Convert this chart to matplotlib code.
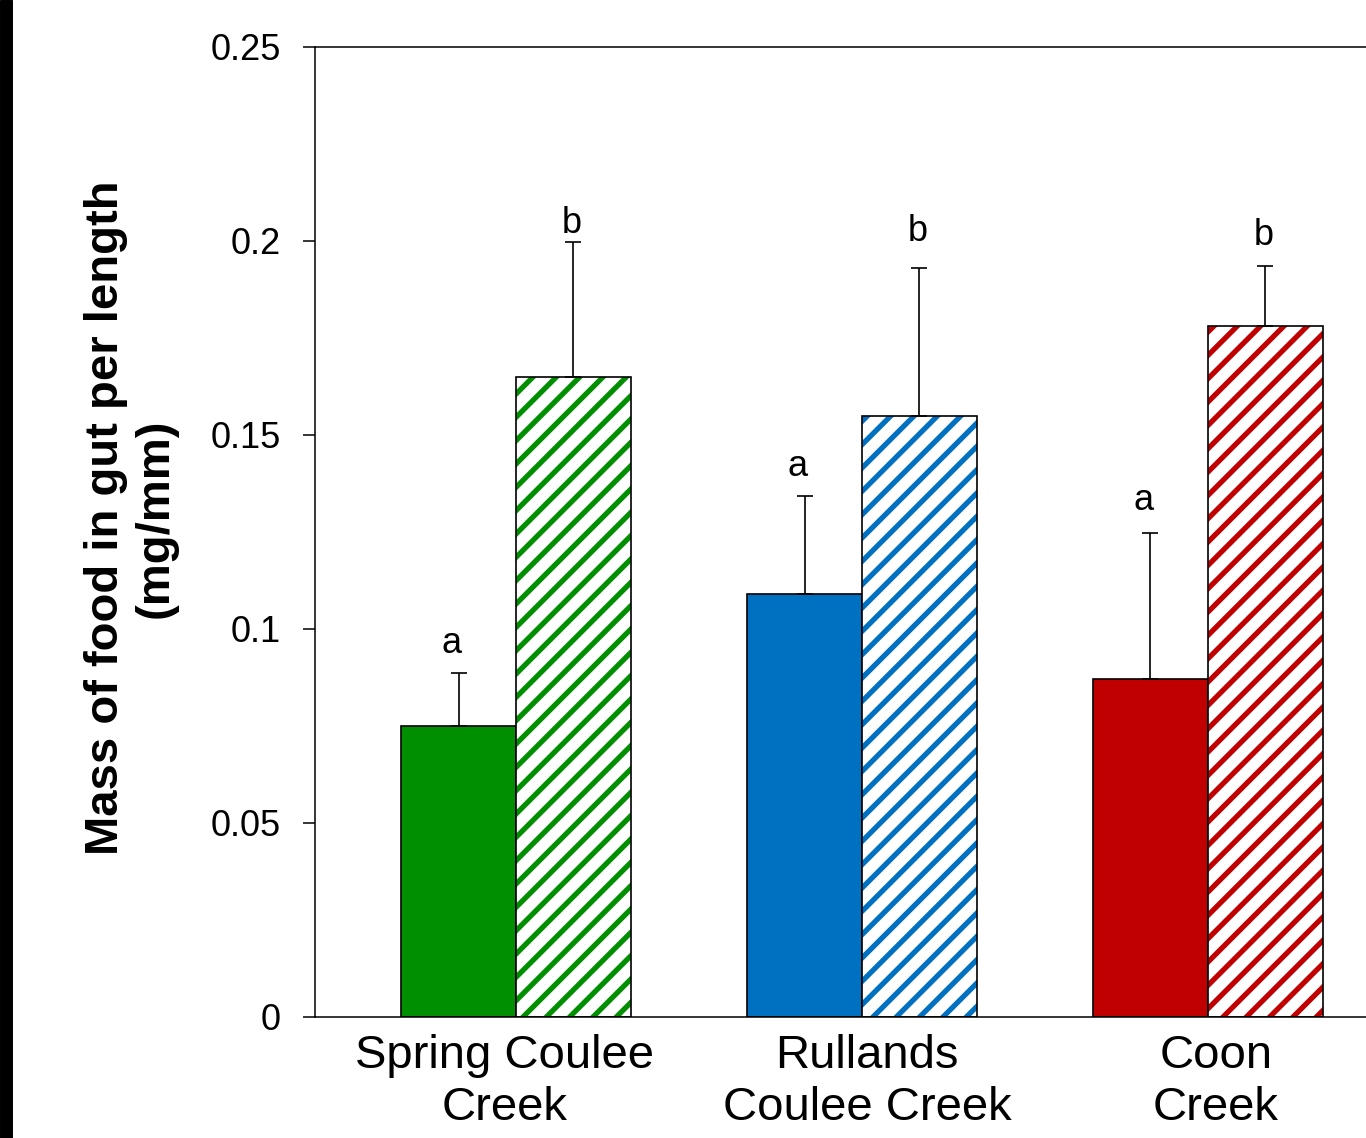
import matplotlib.pyplot as plt
from matplotlib.patches import Rectangle
from matplotlib.transforms import ScaledTranslation
import numpy as np

# drawn at 70 dpi so the hatch stripes come out as dense as in the original;
# S converts sizes picked for 100 dpi
DPI = 70
S = 100 / DPI

plt.rcParams['font.family'] = ['Liberation Sans', 'DejaVu Sans']
plt.rcParams['hatch.linewidth'] = 5.4

sites = ['Spring Coulee\nCreek', 'Rullands\nCoulee Creek', 'Coon\nCreek']
colors = ['#008F00', '#0070C0', '#C00000']

solid_vals = [0.075, 0.109, 0.0871]
solid_err = [0.0137, 0.0253, 0.0376]
hatch_vals = [0.165, 0.155, 0.178]
hatch_err = [0.0347, 0.038, 0.0156]

# letters above the bars (baseline height)
solid_letters = ['a', 'a', 'a']
solid_letter_y = [0.0938, 0.1394, 0.1307]
hatch_letters = ['b', 'b', 'b']
hatch_letter_y = [0.2021, 0.2000, 0.199]

fig = plt.figure(figsize=(1366 / DPI, 1138 / DPI), dpi=DPI)
ax = fig.add_axes([315 / 1366, 121 / 1138, 1 - 315 / 1366, (1017 - 47) / 1138])

x = np.arange(len(sites))
w = 0.332
lw = 1.2 * S

# solid bars
ax.bar(x - w / 2, solid_vals, width=w, color=colors, edgecolor='black', linewidth=lw, zorder=2)
ax.errorbar(x - w / 2, solid_vals, yerr=[np.zeros(3), solid_err], fmt='none', ecolor='black',
            elinewidth=lw, capsize=6 * S, capthick=lw, zorder=3)

# hatched bars: white face, coloured stripes, black outline
for xi, v, c in zip(x + w / 2, hatch_vals, colors):
    ax.bar(xi, v, width=w, color='white', edgecolor=c, hatch='/', linewidth=0, zorder=2)
ax.bar(x + w / 2, hatch_vals, width=w, fill=False, edgecolor='black', linewidth=lw, zorder=2.5)
ax.errorbar(x + w / 2, hatch_vals, yerr=[np.zeros(3), hatch_err], fmt='none', ecolor='black',
            elinewidth=lw, capsize=6 * S, capthick=lw, zorder=3)

for xi, lab, ly in zip(x - w / 2, solid_letters, solid_letter_y):
    ax.text(xi - 0.02, ly, lab, ha='center', va='baseline', fontsize=26 * S)
for xi, lab, ly in zip(x + w / 2, hatch_letters, hatch_letter_y):
    ax.text(xi - 0.006, ly, lab, ha='center', va='baseline', fontsize=26 * S)

ax.set_ylim(0, 0.25)
ax.set_yticks([0, 0.05, 0.1, 0.15, 0.2, 0.25])
ax.set_yticklabels(['0', '0.05', '0.1', '0.15', '0.2', '0.25'])
ax.set_xlim(-0.581, 2.457)
ax.set_xticks(x)
ax.set_xticklabels(sites, fontsize=34 * S, linespacing=1.25)
ax.tick_params(axis='x', length=0, pad=12 * S)
ax.tick_params(axis='y', direction='out', length=8.6 * S, width=1.1 * S, pad=15.8 * S,
               labelsize=26 * S)

# small horizontal nudges of the category labels (pixels)
for lab, dx in zip(ax.get_xticklabels(), [-11, 5, 8]):
    lab.set_transform(lab.get_transform() + ScaledTranslation(dx / DPI, 0, fig.dpi_scale_trans))

ax.spines['right'].set_visible(False)
for s in ['left', 'bottom', 'top']:
    ax.spines[s].set_linewidth(1.1 * S)

fig.text(131 / 1366, 1 - 518 / 1138, 'Mass of food in gut per length\n(mg/mm)', rotation=90,
         ha='center', va='center', multialignment='center', fontsize=34 * S, fontweight='bold',
         linespacing=1.15)

# black strip at the left edge of the image
fig.patches.append(Rectangle((0, 0), 12 / 1366, 1, transform=fig.transFigure, color='black'))

fig.savefig('out.png', dpi=DPI)
